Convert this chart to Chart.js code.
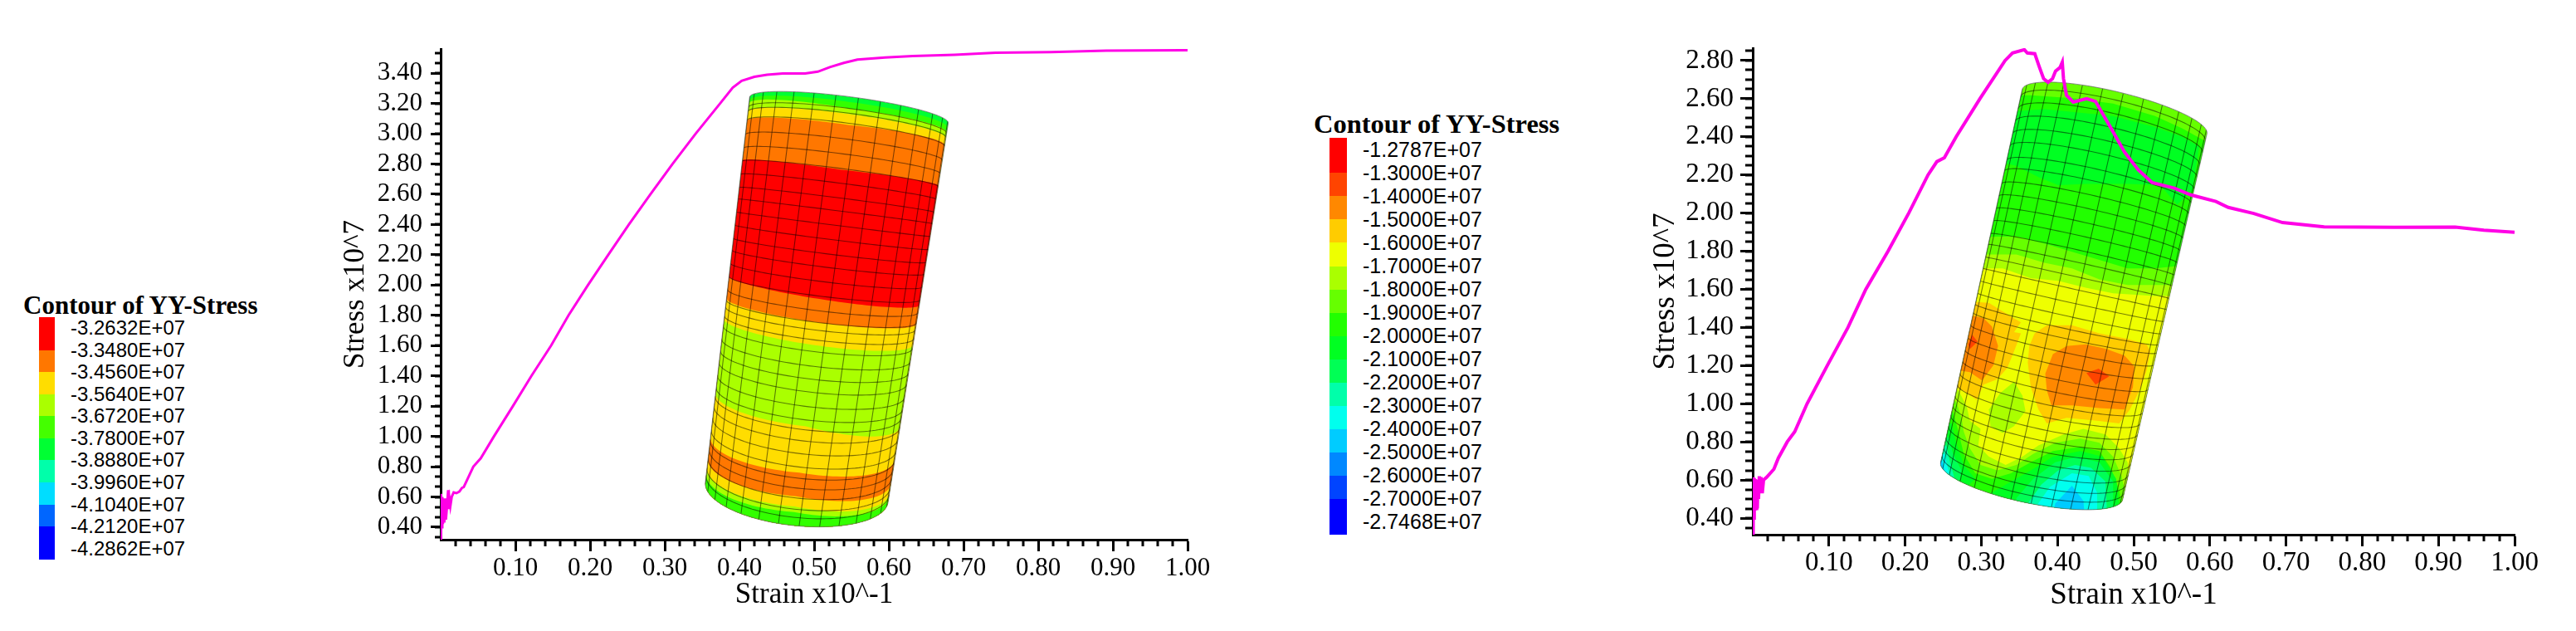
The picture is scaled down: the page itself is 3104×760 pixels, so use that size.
<!DOCTYPE html>
<html>
<head>
<meta charset="utf-8">
<style>
    html, body { margin: 0; background: #fff; width: 3104px; height: 760px; overflow: hidden; }
    canvas { position: absolute; top: 0; }
    .legend-title { position: absolute; font-family: "Liberation Serif", serif; font-weight: bold; line-height: 1; white-space: nowrap; color: #000; }
    .legend-label { position: absolute; font-family: "Liberation Sans", sans-serif; line-height: 1; white-space: nowrap; color: #000; }
    .legend-swatch { position: absolute; }
</style>
</head>
<body>
<div id="legends"></div>
<canvas id="leftChart" width="1120" height="760" style="left:380px"></canvas>
<canvas id="rightChart" width="1154" height="760" style="left:1950px"></canvas>
<script src="https://cdn.jsdelivr.net/npm/chart.js@4/dist/chart.umd.min.js"></script>
<script>
// Curvas
const leftStrain = [.0002, .0005, .0012, .0022, .003, .0037, .0048, .0063, .007, .0082, .01, .0108, .012, .013, .0148, .0174, .021, .025, .0285, .0309, .0437, .0536, .0713, .0967, .1215, .1478, .1712, .1972, .2244, .252, .2809, .3103, .3413, .3741, .391, .403, .42, .437, .458, .488, .505, .521, .5397, .558, .595, .632, .688, .743, .817, .891, 1];
const leftStress = [.32, .62, .40, .60, .42, .59, .43, .59, .45, .52, .645, .52, .58, .54, .60, .63, .625, .635, .66, .665, .8, .855, 1, 1.2, 1.4, 1.6, 1.8, 2, 2.2, 2.4, 2.6, 2.8, 3, 3.2, 3.304, 3.35, 3.376, 3.39, 3.398, 3.398, 3.41, 3.44, 3.468, 3.49, 3.504, 3.513, 3.522, 3.535, 3.54, 3.549, 3.552];
const rightStrain = [.0002, .0006, .0012, .002, .0028, .0036, .0044, .0052, .006, .0068, .0076, .0086, .0095, .0108, .0125, .0142, .018, .0278, .0336, .0453, .0551, .0713, .0978, .125, .1484, .1776, .2048, .2301, .2417, .2515, .267, .2982, .3312, .341, .3565, .3604, .3702, .3759, .3818, .3877, .3935, .3974, .4032, .4063, .4079, .4118, .4207, .4382, .4499, .4694, .488, .5061, .5243, .5533, .5751, .6079, .6241, .6576, .6954, .75, .8423, .922, .9597, 1];
const rightStress = [.31, .615, .40, .61, .44, .605, .45, .60, .45, .595, .50, .62, .53, .615, .53, .60, .6135, .657, .715, .8, .853, 1, 1.2, 1.4, 1.6, 1.8, 2, 2.2, 2.27, 2.29, 2.4, 2.6, 2.8, 2.84, 2.857, 2.84, 2.836, 2.77, 2.705, 2.686, 2.705, 2.744, 2.763, 2.792, 2.705, 2.618, 2.582, 2.60, 2.586, 2.451, 2.32, 2.226, 2.16, 2.131, 2.095, 2.061, 2.03, 1.998, 1.95, 1.928, 1.925, 1.926, 1.91, 1.899];

const strainTicks = [.1, .2, .3, .4, .5, .6, .7, .8, .9, 1];
const leftStressTicks = [.4, .6, .8, 1, 1.2, 1.4, 1.6, 1.8, 2, 2.2, 2.4, 2.6, 2.8, 3, 3.2, 3.4];
const rightStressTicks = [.4, .6, .8, 1, 1.2, 1.4, 1.6, 1.8, 2, 2.2, 2.4, 2.6, 2.8];

// Legendas
const leftLegendLabels = ['-3.2632E+07', '-3.3480E+07', '-3.4560E+07', '-3.5640E+07', '-3.6720E+07', '-3.7800E+07', '-3.8880E+07', '-3.9960E+07', '-4.1040E+07', '-4.2120E+07', '-4.2862E+07'];
const leftLegendColors = ['#ff0000', '#ff7700', '#ffdd00', '#aaff00', '#44ff00', '#00ff33', '#00ffaa', '#00ddff', '#0066ff', '#0000ff'];
const rightLegendLabels = ['-1.2787E+07', '-1.3000E+07', '-1.4000E+07', '-1.5000E+07', '-1.6000E+07', '-1.7000E+07', '-1.8000E+07', '-1.9000E+07', '-2.0000E+07', '-2.1000E+07', '-2.2000E+07', '-2.3000E+07', '-2.4000E+07', '-2.5000E+07', '-2.6000E+07', '-2.7000E+07', '-2.7468E+07'];
const rightLegendColors = ['#ff0000', '#ff4400', '#ff8800', '#ffcc00', '#eeff00', '#aaff00', '#66ff00', '#22ff00', '#00ff22', '#00ff55', '#00ffaa', '#00ffee', '#00ccff', '#0088ff', '#0044ff', '#0000ff'];

// Cilindro esquerdo: faixas em t (esquerda, centro, direita)
const leftBandEdges = [[.009, .012, .012], [.017, .027, .025], [.038, .04, .04], [.062, .065, .058], [.165, .17, .165], [.466, .473, .48], [.523, .527, .53], [.576, .58, .585], [.769, .769, .80], [.883, .877, .888], [.939, .932, .95], [.962, .956, .975], [.977, .969, .985]];
const leftBandColors = ['#00ff33', '#33ff00', '#aaff00', '#ffdd00', '#ff7700', '#ff0000', '#ff7700', '#ffdd00', '#aaff00', '#ffdd00', '#ff7700', '#ffdd00', '#aaff00', '#33ff00'];
const leftMeshRows = [.027, .038, .061, .098, .133, .167, .201, .235, .265, .299, .333, .367, .398, .432, .466, .5, .527, .545, .568, .595, .629, .659, .689, .723, .754, .777, .803, .833, .864, .89, .913, .936, .962, .981];
const leftMeshColumns = [-86.6, -73.6, -60.6, -47.6, -34.6, -21.6, -8.6, 4.4, 17.4, 30.4, 43.4, 56.4, 69.4, 82.4];
const rightMeshRows = [.02, .052, .0855, .119, .152, .19, .219, .253, .286, .32, .353, .387, .416, .45, .48, .513, .546, .576, .599, .632, .665, .699, .729, .762, .792, .822, .848, .874, .903, .933, .959, .981];
const rightMeshColumns = [-87, -74.5, -61.6, -48.7, -35.9, -23, -10.1, 2.7, 15.6, 28.4, 41.3, 54.1, 67, 79.9];

// Cilindro direito: regiões de contorno em (strain, stress)
const greenUpper = [[.2, 2.618], [.365, 2.618], [.419, 2.603], [.473, 2.574], [.528, 2.509], [.564, 2.444], [.597, 2.371], [.7, 2.3], [.7, .35], [.2, .35]];
const brightUpper = [[.33, 2.531], [.383, 2.545], [.419, 2.531], [.473, 2.509], [.528, 2.451], [.564, 2.40], [.586, 2.349], [.577, 2.117], [.557, 2.044], [.535, 2.146], [.492, 2.153], [.437, 2.153], [.401, 2.146], [.375, 2.189], [.346, 2.248], [.33, 2.262]];
const limeBand = [[.2, 1.87], [.346, 1.877], [.383, 1.841], [.419, 1.797], [.455, 1.754], [.492, 1.71], [.528, 1.71], [.564, 1.725], [.7, 1.73], [.7, .35], [.2, .35]];
const paleBand = [[.2, 1.783], [.346, 1.783], [.383, 1.739], [.419, 1.71], [.455, 1.652], [.492, 1.623], [.55, 1.623], [.7, 1.63], [.7, .35], [.2, .35]];
const yellowBand = [[.2, 1.71], [.328, 1.71], [.365, 1.659], [.401, 1.645], [.437, 1.609], [.473, 1.579], [.528, 1.565], [.546, 1.565], [.6, 1.52], [.7, 1.5], [.7, .35], [.2, .35]];
const amberRight = [[.37, 1.369], [.386, 1.412], [.419, 1.412], [.455, 1.369], [.492, 1.34], [.517, 1.311], [.522, 1.274], [.517, 1.173], [.508, 1.071], [.495, .969], [.481, .897], [.452, .911], [.412, .926], [.386, .897], [.375, .969], [.365, 1.086], [.361, 1.216], [.363, 1.303]];
const amberLeft = [[.285, 1.536], [.31, 1.529], [.328, 1.485], [.352, 1.427], [.343, 1.376], [.352, 1.369], [.343, 1.274], [.334, 1.187], [.321, 1.129], [.303, 1.1], [.294, 1.02], [.281, 1.057], [.25, 1.129], [.25, 1.536]];
const orangeLeft = [[.288, 1.463], [.303, 1.449], [.314, 1.405], [.322, 1.303], [.316, 1.202], [.301, 1.122], [.285, 1.165], [.25, 1.187], [.25, 1.463]];
const redLeft = [[.288, 1.362], [.295, 1.325], [.285, 1.286], [.283, 1.311]];
const orangeRight = [[.384, 1.158], [.394, 1.26], [.412, 1.303], [.437, 1.311], [.463, 1.289], [.488, 1.253], [.501, 1.195], [.499, 1.086], [.488, .969], [.455, .977], [.419, .991], [.392, .991], [.386, 1.071]];
const redRight = [[.438, 1.161], [.454, 1.184], [.468, 1.144], [.45, 1.1]];
const paleIsland = [[.343, 1.115], [.354, 1.042], [.358, .962], [.343, .882], [.328, .846], [.312, .882], [.31, .969], [.325, 1.057]];
const paleLower = [[.27, 1.071], [.281, .984], [.285, .911], [.299, .868], [.296, .781], [.31, .722], [.332, .679], [.354, .722], [.375, .781], [.408, .839], [.434, .868], [.463, .839], [.481, .766], [.492, .693], [.5, .35], [.2, .35], [.2, 1.071]];
const limeLower = [[.267, 1.013], [.274, .926], [.277, .853], [.285, .766], [.299, .679], [.321, .65], [.346, .679], [.368, .737], [.397, .795], [.43, .817], [.455, .795], [.473, .722], [.484, .621], [.5, .35], [.2, .35], [.2, 1.013]];
const greenLower = [[.263, .955], [.27, .853], [.277, .737], [.292, .635], [.314, .606], [.339, .635], [.365, .693], [.394, .752], [.43, .773], [.455, .752], [.47, .664], [.481, .548], [.49, .35], [.2, .35], [.2, .955]];
const brightLower = [[.314, .534], [.339, .592], [.365, .65], [.394, .722], [.43, .752], [.459, .722], [.477, .606], [.481, .461], [.48, .35], [.31, .35]];
const mintLower = [[.346, .505], [.368, .606], [.397, .693], [.426, .722], [.455, .693], [.473, .592], [.473, .35], [.346, .35]];
const tealLower = [[.361, .476], [.379, .577], [.401, .65], [.423, .679], [.444, .664], [.463, .592], [.466, .35], [.361, .35]];
const cyanLower = [[.372, .461], [.39, .563], [.419, .635], [.441, .621], [.452, .534], [.452, .35], [.372, .35]];
const skyLower = [[.397, .476], [.419, .57], [.434, .49], [.437, .35], [.39, .35]];
const brightCorner = [[.261, .897], [.267, .795], [.277, .679], [.292, .606], [.274, .534], [.2, .6], [.2, .9]];
const mintCorner = [[.257, .824], [.263, .737], [.274, .65], [.27, .563], [.2, .6], [.2, .83]];
const tealCorner = [[.254, .781], [.259, .693], [.265, .606], [.2, .6], [.2, .78]];
const cyanCorner = [[.252, .737], [.256, .664], [.259, .621], [.2, .6], [.2, .74]];
const skyCorner = [[.248, .708], [.251, .664], [.252, .65], [.2, .65], [.2, .71]];

const rightPatches = [
    [greenUpper, '#22ff00'], [brightUpper, '#00ff22'], [limeBand, '#66ff00'], [paleBand, '#aaff00'], [yellowBand, '#eeff00'],
    [amberRight, '#ffcc00'], [amberLeft, '#ffcc00'], [orangeLeft, '#ff8800'], [redLeft, '#ff4400'], [orangeRight, '#ff8800'], [redRight, '#ff4400'], [paleIsland, '#aaff00'],
    [paleLower, '#aaff00'], [limeLower, '#66ff00'], [greenLower, '#22ff00'], [brightLower, '#00ff22'], [mintLower, '#00ff55'], [tealLower, '#00ffaa'], [cyanLower, '#00ffee'], [skyLower, '#00ccff'],
    [brightCorner, '#00ff22'], [mintCorner, '#00ff55'], [tealCorner, '#00ffaa'], [cyanCorner, '#00ffee'], [skyCorner, '#00ccff']
];

const lerp = (a, b, k) => a + (b - a) * k;

function surfacePoint(cyl, theta, t) {
    const s = Math.sin(theta * Math.PI / 180), c = Math.cos(theta * Math.PI / 180);
    const axis = i => {
        const l = lerp(cyl.topLeft[i], cyl.bottomLeft[i], t);
        const r = lerp(cyl.topRight[i], cyl.bottomRight[i], t);
        return (l + r) / 2 + (r - l) / 2 * s + lerp(cyl.topBulge[i], cyl.bottomBulge[i], t) * c;
    };
    return [axis(0), axis(1)];
}

function edgeT(edge, theta) {
    const s = Math.sin(theta * Math.PI / 180);
    return s < 0 ? lerp(edge[1], edge[0], -s) : lerp(edge[1], edge[2], s);
}

const thetas = [];
for (let a = -90; a <= 90; a += 3) thetas.push(a);

function surfacePlugin(cyl) {
    return {
        id: 'surface',
        beforeDatasetsDraw(chart) {
            const { ctx, scales } = chart;
            const trace = pts => pts.forEach((p, i) => {
                const px = scales.x.getPixelForValue(p[0]), py = scales.y.getPixelForValue(p[1]);
                i ? ctx.lineTo(px, py) : ctx.moveTo(px, py);
            });
            const fillPoly = (pts, color) => {
                ctx.beginPath();
                trace(pts);
                ctx.closePath();
                ctx.fillStyle = color;
                ctx.fill();
            };
            const outline = thetas.map(a => surfacePoint(cyl, a, 0))
                .concat(thetas.slice().reverse().map(a => surfacePoint(cyl, a, 1)));

            ctx.save();
            ctx.beginPath();
            trace(outline);
            ctx.closePath();
            ctx.clip();

            if (cyl.bands) {
                fillPoly(outline, cyl.bandColors[0]);
                cyl.bands.forEach((edge, i) => {
                    const pts = thetas.map(a => surfacePoint(cyl, a, edgeT(edge, a)))
                        .concat(thetas.slice().reverse().map(a => surfacePoint(cyl, a, 1.02)));
                    fillPoly(pts, cyl.bandColors[i + 1]);
                });
            }
            if (cyl.baseColor) fillPoly(outline, cyl.baseColor);
            (cyl.patches || []).forEach(p => fillPoly(p[0], p[1]));

            ctx.strokeStyle = 'rgba(0,0,0,0.5)';
            ctx.lineWidth = 1.1;
            cyl.rows.forEach(t => {
                ctx.beginPath();
                trace(thetas.map(a => surfacePoint(cyl, a, t)));
                ctx.stroke();
            });
            cyl.columns.forEach(a => {
                ctx.beginPath();
                trace([0, .1, .2, .3, .4, .5, .6, .7, .8, .9, 1].map(t => surfacePoint(cyl, a, t)));
                ctx.stroke();
            });
            ctx.restore();

            ctx.strokeStyle = 'rgba(90,90,90,0.7)';
            ctx.lineWidth = 1;
            ctx.beginPath();
            trace(outline);
            ctx.closePath();
            ctx.stroke();
        }
    };
}

// marcas menores dos eixos, sem texto
function minorTickPlugin(cfg) {
    return {
        id: 'minorTicks',
        afterDraw(chart) {
            const { ctx, scales, chartArea } = chart;
            ctx.save();
            ctx.strokeStyle = '#000';
            ctx.lineWidth = cfg.tickWidth;
            ctx.beginPath();
            for (let v = 0; v < 1; v += .1 / cfg.xSub) {
                const px = Math.round(scales.x.getPixelForValue(v));
                if (Math.abs(v * 10 - Math.round(v * 10)) < 1e-6) continue;
                ctx.moveTo(px, chartArea.bottom);
                ctx.lineTo(px, chartArea.bottom + cfg.xMinorLen);
            }
            for (let v = .4 - .2; v <= scales.y.max + .001; v += .2 / cfg.ySub) {
                if (v < scales.y.min || v > scales.y.max) continue;
                const py = Math.round(scales.y.getPixelForValue(v));
                ctx.moveTo(chartArea.left, py);
                ctx.lineTo(chartArea.left - cfg.yMinorLen, py);
            }
            ctx.stroke();
            ctx.restore();
        }
    };
}

function makeChart(id, cfg) {
    const serif = '"Liberation Serif", serif';
    new Chart(document.getElementById(id), {
        type: 'scatter',
        data: {
            datasets: [{
                data: cfg.strain.map((x, i) => ({ x, y: cfg.stress[i] })),
                showLine: true,
                borderColor: '#ff00e6',
                borderWidth: cfg.lineWidth,
                pointRadius: 0,
                tension: 0
            }]
        },
        options: {
            responsive: false,
            animation: false,
            layout: { padding: { left: 20, right: cfg.padRight, top: cfg.padTop, bottom: 0 } },
            plugins: { legend: { display: false }, tooltip: { enabled: false } },
            scales: {
                x: {
                    type: 'linear', min: 0, max: 1,
                    afterFit: s => { s.height = cfg.xHeight; },
                    afterBuildTicks: s => { s.ticks = strainTicks.map(value => ({ value })); },
                    border: { display: true, color: '#000', width: 3 },
                    grid: { drawOnChartArea: false, tickLength: 14, tickWidth: cfg.tickWidth, tickColor: '#000' },
                    ticks: { autoSkip: false, maxRotation: 0, padding: cfg.xTickPad, color: '#000', font: { family: serif, size: cfg.tickFont }, callback: v => v.toFixed(2) },
                    title: { display: true, text: 'Strain x10^-1', color: '#000', font: { family: serif, size: cfg.titleFont }, padding: { top: 0, bottom: cfg.xTitlePad } }
                },
                y: {
                    type: 'linear', min: cfg.yMin, max: cfg.yMax,
                    afterFit: s => { s.width = cfg.yWidth; },
                    afterBuildTicks: s => { s.ticks = cfg.yTicks.map(value => ({ value })); },
                    border: { display: true, color: '#000', width: 3 },
                    grid: { drawOnChartArea: false, tickLength: cfg.yMajorLen, tickWidth: cfg.tickWidth, tickColor: '#000' },
                    ticks: { autoSkip: false, padding: cfg.yTickPad, color: '#000', font: { family: serif, size: cfg.tickFont }, callback: v => v.toFixed(2) },
                    title: { display: true, text: 'Stress x10^7', color: '#000', font: { family: serif, size: cfg.titleFont }, padding: { top: cfg.yTitlePad, bottom: 0 } }
                }
            }
        },
        plugins: [surfacePlugin(cfg.cylinder), minorTickPlugin(cfg)]
    });
}

function addLegend(cfg) {
    const root = document.getElementById('legends');
    const place = (cls, css, text) => {
        const el = document.createElement('div');
        el.className = cls;
        el.style.cssText = css;
        if (text) el.textContent = text;
        root.appendChild(el);
    };
    place('legend-title', `left:${cfg.titleX}px;top:${cfg.titleY - cfg.titleSize / 2}px;font-size:${cfg.titleSize}px`, 'Contour of YY-Stress');
    cfg.colors.forEach((color, i) => {
        const top = i === 0 ? cfg.barTop : cfg.labelY + i * cfg.step;
        const bottom = i === cfg.colors.length - 1 ? cfg.barBottom : cfg.labelY + (i + 1) * cfg.step;
        place('legend-swatch', `left:${cfg.barX}px;width:${cfg.barW}px;top:${top}px;height:${bottom - top + .5}px;background:${color}`);
    });
    cfg.labels.forEach((text, i) => {
        place('legend-label', `left:${cfg.textX}px;top:${cfg.labelY + i * cfg.step - cfg.textSize / 2}px;font-size:${cfg.textSize}px`, text);
    });
}

document.addEventListener('DOMContentLoaded', () => {
    addLegend({ labels: leftLegendLabels, colors: leftLegendColors, titleX: 28, titleY: 367, titleSize: 31, barX: 47, barW: 19, barTop: 381.7, barBottom: 674, labelY: 395, step: 26.57, textX: 85, textSize: 24 });
    addLegend({ labels: rightLegendLabels, colors: rightLegendColors, titleX: 1583, titleY: 149.3, titleSize: 32.5, barX: 1602, barW: 21, barTop: 165.5, barBottom: 643.4, labelY: 180.3, step: 28.04, textX: 1642, textSize: 25 });

    makeChart('leftChart', {
        strain: leftStrain, stress: leftStress, yTicks: leftStressTicks, lineWidth: 3,
        yMin: .3176, yMax: 3.56, padRight: 69, padTop: 59, xHeight: 110, yWidth: 131, yMajorLen: 12, yMinorLen: 7, xMinorLen: 8,
        tickWidth: 3, tickFont: 31, titleFont: 35, yTickPad: 10, xTickPad: 2, xTitlePad: 22, yTitlePad: 8, xSub: 5, ySub: 3,
        cylinder: {
            topLeft: [.4137, 3.243], topRight: [.6796, 3.07], bottomLeft: [.3544, .699], bottomRight: [.599, .565],
            topBulge: [.0025, .087], bottomBulge: [-.0062, -.22],
            bands: leftBandEdges, bandColors: leftBandColors, rows: leftMeshRows, columns: leftMeshColumns
        }
    });
    makeChart('rightChart', {
        strain: rightStrain, stress: rightStress, yTicks: rightStressTicks, lineWidth: 4,
        yMin: .313, yMax: 2.865, padRight: 74, padTop: 58, xHeight: 116, yWidth: 142, yMajorLen: 15, yMinorLen: 9, xMinorLen: 8,
        tickWidth: 3, tickFont: 33, titleFont: 37, yTickPad: 8, xTickPad: 1, xTitlePad: 21, yTitlePad: 15, xSub: 5, ySub: 4,
        cylinder: {
            topLeft: [.3537, 2.6486], topRight: [.5962, 2.416], bottomLeft: [.2467, .693], bottomRight: [.4855, .497],
            topBulge: [.0057, .102], bottomBulge: [-.0064, -.115],
            baseColor: '#66ff00', patches: rightPatches, rows: rightMeshRows, columns: rightMeshColumns
        }
    });
});
</script>
</body>
</html>
